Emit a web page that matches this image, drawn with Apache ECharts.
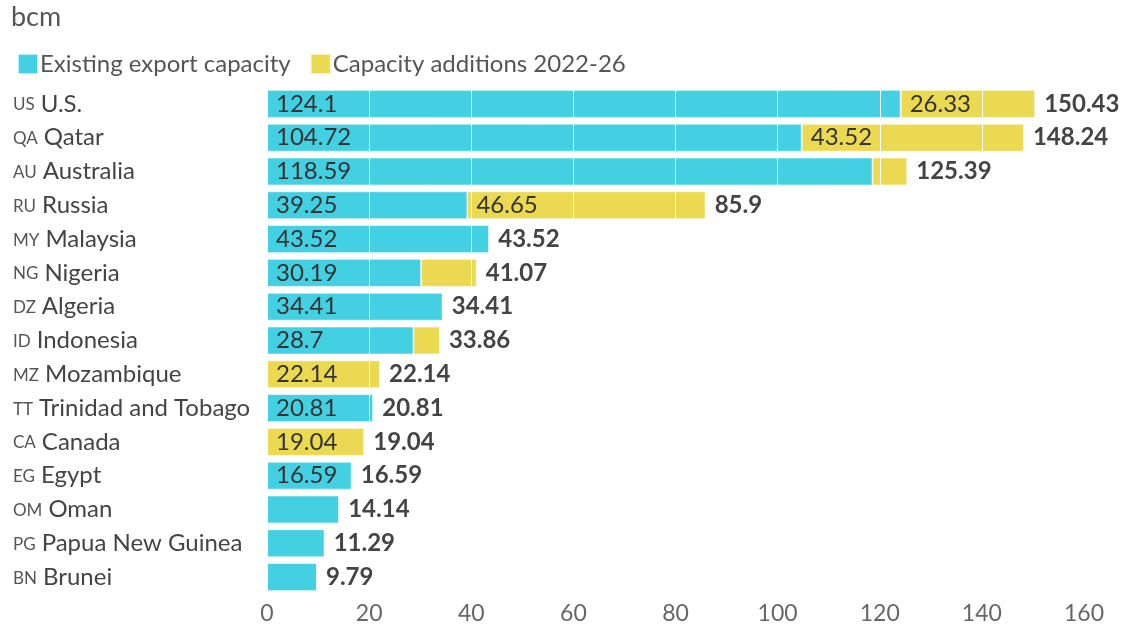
<!DOCTYPE html>
<html><head><meta charset="utf-8">
<script src="https://cdn.jsdelivr.net/npm/echarts@6/dist/echarts.min.js"></script>
<style>html,body{margin:0;padding:0;background:#fff}#c{width:1126px;height:625px}</style>
</head><body><div id="c"></div>
<script>
const codes = ['US','QA','AU','RU','MY','NG','DZ','ID','MZ','TT','CA','EG','OM','PG','BN'];
const countries = ['U.S.','Qatar','Australia','Russia','Malaysia','Nigeria','Algeria','Indonesia','Mozambique','Trinidad and Tobago','Canada','Egypt','Oman','Papua New Guinea','Brunei'];
const existing = [124.1,104.72,118.59,39.25,43.52,30.19,34.41,28.7,0,20.81,0,16.59,14.14,11.29,9.79];
const additions = [26.33,43.52,6.8,46.65,0,10.88,0,5.16,22.14,0,19.04,0,0,0,0];
const totals = [150.43,148.24,125.39,85.9,43.52,41.07,34.41,33.86,22.14,20.81,19.04,16.59,14.14,11.29,9.79];
const xTicks = [0,20,40,60,80,100,120,140,160];

const cats = codes.map((c,i)=>c+'|'+countries[i]);
const CYAN = '#42D0E2', YELLOW = '#EBD951';
const FS = 24;
function items(arr){
  return arr.map(v=>({value: v, label:{show: v >= 15}}));
}
const chart = echarts.init(document.getElementById('c'));
chart.setOption({
  animation:false,
  textStyle:{fontFamily:'Lato'},
  graphic:[{type:'text', left:11, top:4, style:{text:'bcm', font:'normal 27px Lato', fill:'#555'}}],
  legend:{
    data:['Existing export capacity','Capacity additions 2022-26'],
    left:12, top:47, icon:'rect', itemWidth:20, itemHeight:20, itemGap:19,
    textStyle:{fontFamily:'Lato', fontSize:FS, color:'#555', padding:[0,0,0,-3]}
  },
  grid:{left:267, right:42, top:87, bottom:31, containLabel:false},
  xAxis:{
    type:'value', min:0, max:160, interval:20, z:3,
    axisLine:{show:false}, axisTick:{show:false},
    splitLine:{show:true, lineStyle:{color:'#ffffff', width:1}},
    axisLabel:{fontFamily:'Lato', fontSize:FS-1, color:'#666', margin:8,
      formatter:v=> xTicks.includes(v) ? String(v) : ''}
  },
  yAxis:{
    type:'category', data:cats, inverse:true,
    axisLine:{show:false}, axisTick:{show:false},
    axisLabel:{
      align:'left', margin:255,
      formatter:v=>{const p=v.split('|'); return '{c|'+p[0]+'}{n|'+p[1]+'}';},
      rich:{
        c:{fontFamily:'Lato', fontSize:17, color:'#555', fontWeight:'normal', padding:[2,6,0,1]},
        n:{fontFamily:'Lato', fontSize:FS, color:'#444'}
      }
    }
  },
  series:[
    {name:'Existing export capacity', type:'bar', stack:'s', barCategoryGap:'17%', data:items(existing),
      itemStyle:{color:CYAN, borderColor:'rgba(255,255,255,0.6)', borderWidth:1},
      label:{position:'insideLeft', distance:9, fontFamily:'Lato', fontSize:FS, color:'#333'}},
    {name:'Capacity additions 2022-26', type:'bar', stack:'s', data:items(additions),
      itemStyle:{color:YELLOW, borderColor:'rgba(255,255,255,0.6)', borderWidth:1},
      label:{position:'insideLeft', distance:9, fontFamily:'Lato', fontSize:FS, color:'#333'}},
    {name:'total', type:'bar', barGap:'-100%', data:totals, z:10,
      itemStyle:{color:'rgba(0,0,0,0)'}, silent:true,
      label:{show:true, position:'right', distance:9, fontFamily:'Lato', fontSize:FS, fontWeight:'bold', color:'#444'}}
  ]
});
</script></body></html>
